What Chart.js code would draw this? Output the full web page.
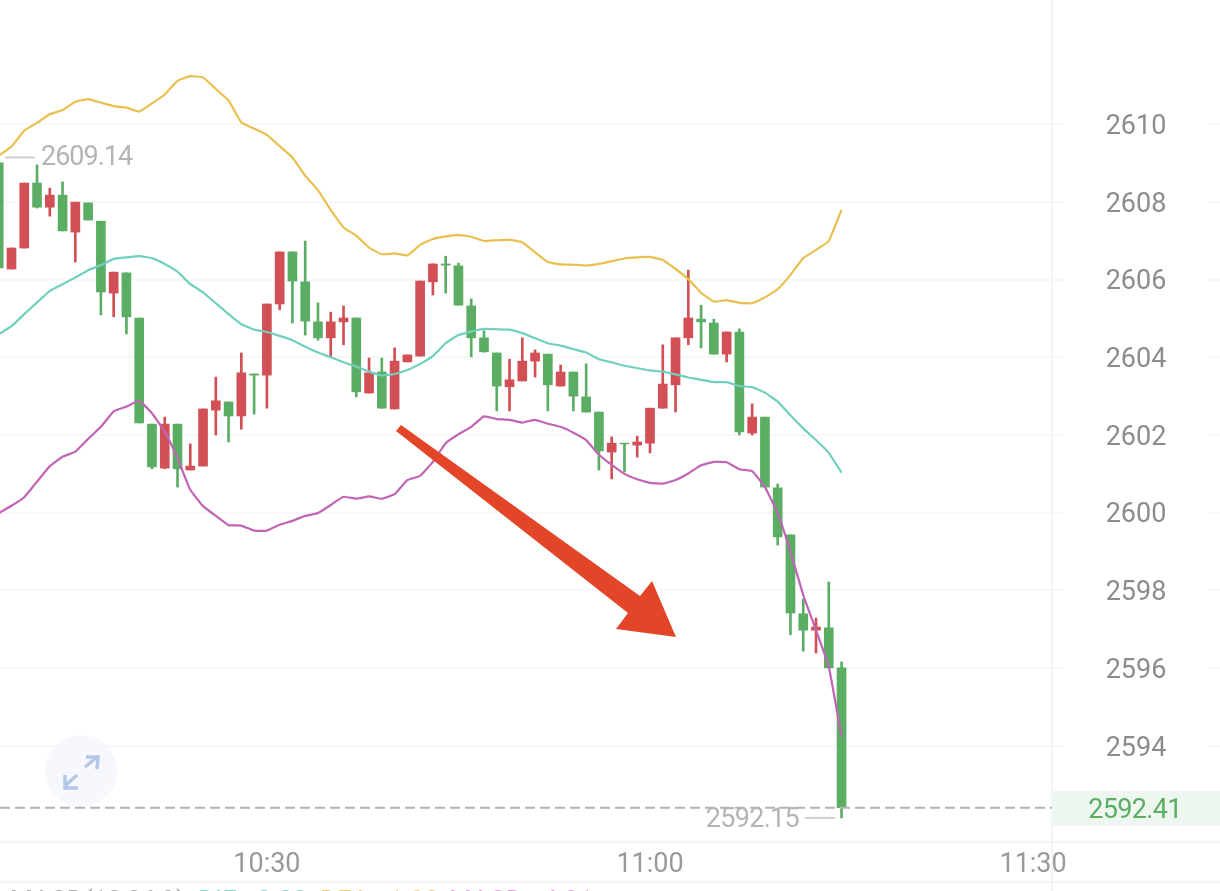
<!DOCTYPE html>
<html>
<head>
<meta charset="utf-8">
<title>Candles</title>
<style>
  html, body { margin: 0; padding: 0; background: #fff; overflow: hidden; }
  canvas { display: block; }
</style>
<script src="https://cdn.jsdelivr.net/npm/chart.js@4/dist/chart.umd.js"></script>
</head>
<body>
<canvas id="chart" width="1220" height="891"></canvas>
<script>
// 1-minute candles with Bollinger bands, 10:09 to 11:15. x is minutes after 10:00.

const firstMinute = 9;

const opens = [
  2609.00, 2606.27, 2606.81, 2608.48, 2607.86, 2608.17, 2607.22, 2607.97, 2607.50, 2605.65,
  2606.17, 2605.01, 2602.28, 2601.15, 2602.28, 2601.10, 2601.20, 2602.64, 2602.85, 2602.49,
  2603.57, 2603.54, 2605.37, 2606.71, 2605.94, 2604.91, 2604.50, 2604.91, 2605.01, 2603.08,
  2603.62, 2602.67, 2603.88, 2604.03, 2605.94, 2606.40, 2606.35, 2605.32, 2604.50, 2604.11,
  2603.24, 2603.39, 2603.90, 2604.08, 2603.26, 2603.62, 2602.98, 2602.59, 2601.56, 2601.79,
  2601.74, 2601.79, 2602.69, 2603.29, 2604.50, 2604.98, 2604.88, 2604.08, 2604.65, 2602.05,
  2602.46, 2600.64, 2599.43, 2597.40, 2596.98, 2597.04, 2596.01
];
const highs = [
  2609.00, 2606.81, 2608.48, 2608.95, 2608.35, 2608.51, 2607.99, 2607.97, 2607.50, 2606.19,
  2606.17, 2605.01, 2602.28, 2602.46, 2602.28, 2601.77, 2602.67, 2603.49, 2602.85, 2604.11,
  2603.57, 2605.37, 2606.71, 2606.71, 2606.99, 2605.40, 2605.16, 2605.32, 2605.01, 2603.98,
  2603.98, 2604.24, 2604.06, 2605.96, 2606.40, 2606.60, 2606.42, 2605.50, 2604.68, 2604.11,
  2603.95, 2604.50, 2604.19, 2604.08, 2603.80, 2603.62, 2603.83, 2602.59, 2601.95, 2601.79,
  2601.97, 2602.69, 2604.32, 2604.50, 2606.24, 2605.34, 2604.98, 2604.65, 2604.73, 2602.80,
  2602.46, 2600.74, 2599.43, 2597.78, 2597.29, 2598.22, 2596.16
];
const lows = [
  2606.30, 2606.27, 2606.81, 2607.84, 2607.63, 2607.25, 2606.45, 2607.53, 2605.09, 2605.04,
  2604.60, 2602.31, 2601.13, 2601.13, 2600.66, 2601.10, 2601.20, 2602.00, 2601.82, 2602.15,
  2602.54, 2602.69, 2605.22, 2604.88, 2604.57, 2604.44, 2604.01, 2604.32, 2602.98, 2603.08,
  2602.69, 2602.67, 2603.88, 2604.03, 2605.60, 2605.65, 2605.34, 2604.01, 2604.13, 2602.62,
  2602.62, 2603.39, 2603.49, 2602.62, 2603.26, 2602.62, 2602.59, 2601.10, 2600.87, 2601.05,
  2601.43, 2601.54, 2602.69, 2602.59, 2604.32, 2604.24, 2604.08, 2603.88, 2602.00, 2602.00,
  2600.66, 2599.17, 2596.86, 2596.44, 2596.39, 2596.01, 2592.15
];
const closes = [
  2606.30, 2606.81, 2608.48, 2607.86, 2608.17, 2607.25, 2607.99, 2607.53, 2605.68, 2606.19,
  2605.04, 2602.31, 2601.18, 2602.28, 2601.13, 2601.20, 2602.67, 2602.88, 2602.49, 2603.60,
  2603.54, 2605.37, 2606.71, 2605.96, 2604.93, 2604.50, 2604.91, 2605.01, 2603.11, 2603.60,
  2602.69, 2603.90, 2604.06, 2605.96, 2606.40, 2606.37, 2605.34, 2604.50, 2604.14, 2603.26,
  2603.42, 2603.90, 2604.11, 2603.29, 2603.62, 2603.00, 2602.59, 2601.59, 2601.79, 2601.77,
  2601.82, 2602.69, 2603.31, 2604.50, 2605.01, 2604.91, 2604.08, 2604.65, 2602.08, 2602.46,
  2600.66, 2599.38, 2597.42, 2596.98, 2597.06, 2596.01, 2592.41
];

const upperBand = [
  2609.18, 2609.42, 2609.83, 2610.03, 2610.25, 2610.36, 2610.57, 2610.64, 2610.55, 2610.46,
  2610.42, 2610.32, 2610.53, 2610.76, 2611.11, 2611.23, 2611.20, 2610.90, 2610.60, 2610.04,
  2609.88, 2609.72, 2609.43, 2609.14, 2608.67, 2608.30, 2607.79, 2607.34, 2607.13, 2606.82,
  2606.65, 2606.67, 2606.62, 2606.89, 2607.04, 2607.11, 2607.14, 2607.10, 2606.99, 2607.01,
  2607.02, 2606.96, 2606.70, 2606.45, 2606.39, 2606.38, 2606.36, 2606.40, 2606.47, 2606.54,
  2606.57, 2606.58, 2606.50, 2606.27, 2606.01, 2605.66, 2605.43, 2605.47, 2605.40, 2605.39,
  2605.54, 2605.75, 2606.12, 2606.55, 2606.76, 2606.99, 2607.79
];
const midBand = [
  2604.59, 2604.80, 2605.11, 2605.41, 2605.71, 2605.88, 2606.05, 2606.24, 2606.37, 2606.53,
  2606.57, 2606.60, 2606.55, 2606.40, 2606.20, 2605.88, 2605.67, 2605.39, 2605.11, 2604.85,
  2604.71, 2604.65, 2604.55, 2604.44, 2604.27, 2604.12, 2604.00, 2603.87, 2603.76, 2603.63,
  2603.53, 2603.57, 2603.67, 2603.83, 2604.03, 2604.36, 2604.57, 2604.66, 2604.73, 2604.72,
  2604.71, 2604.62, 2604.49, 2604.36, 2604.30, 2604.21, 2604.12, 2603.95, 2603.87, 2603.78,
  2603.72, 2603.66, 2603.63, 2603.56, 2603.48, 2603.42, 2603.36, 2603.36, 2603.26, 2603.23,
  2603.09, 2602.86, 2602.51, 2602.17, 2601.87, 2601.54, 2601.03
];
const lowerBand = [
  2599.99, 2600.18, 2600.40, 2600.80, 2601.20, 2601.44, 2601.57, 2601.90, 2602.21, 2602.61,
  2602.73, 2602.88, 2602.56, 2602.09, 2601.40, 2600.59, 2600.17, 2599.92, 2599.68, 2599.67,
  2599.54, 2599.54, 2599.69, 2599.79, 2599.92, 2599.99, 2600.20, 2600.41, 2600.36, 2600.42,
  2600.36, 2600.48, 2600.84, 2600.95, 2601.31, 2601.79, 2602.02, 2602.21, 2602.48, 2602.41,
  2602.39, 2602.32, 2602.39, 2602.29, 2602.21, 2602.06, 2601.87, 2601.49, 2601.23, 2601.00,
  2600.86, 2600.77, 2600.75, 2600.84, 2601.01, 2601.22, 2601.31, 2601.30, 2601.12, 2601.07,
  2600.66, 2599.99, 2599.00, 2597.88, 2596.98, 2596.04, 2594.24
];

const priceTicks = [2594, 2596, 2598, 2600, 2602, 2604, 2606, 2608, 2610];
const timeTicks = [30, 60, 90];
const timeLabels = ['10:30', '11:00', '11:30'];

const lastPrice = 2592.41;
const highPrice = 2609.14;
const lowPrice = 2592.15;

const GREEN = '#5aad63';
const RED = '#d14f55';
const GRID = '#f6f8f9';
const FONT = 'Roboto, sans-serif';

const candleMinutes = opens.map((_, i) => firstMinute + i);
const candleColor = i => closes[i] >= opens[i] ? RED : GREEN;
const bandPoints = band => band.map((v, i) => ({ x: candleMinutes[i], y: v }));

function lineDataset(band, color) {
  return {
    type: 'line',
    data: bandPoints(band),
    borderColor: color,
    borderWidth: 2.2,
    pointRadius: 0,
    tension: 0.1,
    order: 1,
  };
}

// Screenshot furniture around the plot: axis dividers, labels, the hand-drawn arrow.
const overlay = {
  id: 'overlay',
  beforeDatasetsDraw(chart) {
    const { ctx, scales: { y } } = chart;
    ctx.save();

    // expand button
    ctx.fillStyle = '#f6f8fd';
    ctx.beginPath();
    ctx.ellipse(81, 771, 36, 36, 0, 0, Math.PI * 2);
    ctx.fill();
    ctx.strokeStyle = '#b5c7e9';
    ctx.lineWidth = 3.5;
    ctx.beginPath();
    ctx.moveTo(85, 767); ctx.lineTo(97, 757);
    ctx.moveTo(86, 757); ctx.lineTo(98, 757); ctx.lineTo(97, 769);
    ctx.moveTo(66, 785); ctx.lineTo(77, 775);
    ctx.moveTo(65, 775); ctx.lineTo(65, 788); ctx.lineTo(78, 788);
    ctx.stroke();

    // grid stubs on the far right of the price axis
    ctx.strokeStyle = GRID;
    ctx.lineWidth = 2;
    priceTicks.forEach(v => {
      const py = Math.round(y.getPixelForValue(v));
      ctx.beginPath();
      ctx.moveTo(1208, py);
      ctx.lineTo(1220, py);
      ctx.stroke();
    });

    // price labels, drawn here because the digits sit 3px under the axis' own middle baseline
    ctx.fillStyle = '#8c8c8c';
    ctx.font = '27px ' + FONT;
    ctx.textAlign = 'center';
    ctx.textBaseline = 'middle';
    priceTicks.forEach(v => ctx.fillText(String(v), 1136, y.getPixelForValue(v) + 3));

    // panel lines
    ctx.strokeStyle = '#f3f4f5';
    ctx.lineWidth = 2;
    ctx.beginPath();
    ctx.moveTo(1052, 0); ctx.lineTo(1052, 891);
    ctx.moveTo(0, 842); ctx.lineTo(1220, 842);
    ctx.moveTo(0, 882); ctx.lineTo(1220, 882);
    ctx.stroke();

    // last price tag
    const lastY = y.getPixelForValue(lastPrice);
    ctx.fillStyle = '#eef7ef';
    ctx.fillRect(1053, lastY - 17, 167, 35);
    ctx.fillStyle = GREEN;
    ctx.letterSpacing = '-0.7px';
    ctx.fillText(lastPrice.toFixed(2), 1135, lastY + 3);
    ctx.letterSpacing = '0px';
    ctx.restore();
  },
  afterDatasetsDraw(chart) {
    const { ctx, scales: { y } } = chart;
    ctx.save();

    // last price dashed line
    const lastY = y.getPixelForValue(lastPrice);
    ctx.strokeStyle = '#b3b3b3';
    ctx.lineWidth = 2;
    ctx.setLineDash([10, 5]);
    ctx.beginPath();
    ctx.moveTo(0, lastY);
    ctx.lineTo(1052, lastY);
    ctx.stroke();
    ctx.setLineDash([]);

    // high / low markers
    ctx.font = '27px ' + FONT;
    ctx.fillStyle = '#b4b4b4';
    ctx.textBaseline = 'middle';
    ctx.strokeStyle = '#cfcfcf';
    ctx.letterSpacing = '-1px';
    const highY = y.getPixelForValue(highPrice);
    ctx.beginPath();
    ctx.moveTo(5, highY);
    ctx.lineTo(35, highY);
    ctx.stroke();
    ctx.textAlign = 'left';
    ctx.fillText(highPrice.toFixed(2), 41, highY + 1);
    ctx.letterSpacing = '-0.7px';
    const lowY = y.getPixelForValue(lowPrice);
    ctx.beginPath();
    ctx.moveTo(805, lowY);
    ctx.lineTo(835, lowY);
    ctx.stroke();
    ctx.textAlign = 'right';
    ctx.fillText(lowPrice.toFixed(2), 799, lowY + 2);
    ctx.letterSpacing = '0px';

    // red arrow drawn over the screenshot
    ctx.fillStyle = '#e24527';
    ctx.beginPath();
    ctx.moveTo(396, 431);
    ctx.lineTo(401, 425);
    ctx.lineTo(640, 596);
    ctx.lineTo(652, 581);
    ctx.lineTo(676, 637);
    ctx.lineTo(616, 629);
    ctx.lineTo(628, 613);
    ctx.closePath();
    ctx.fill();

    // indicator readout, cut off by the bottom edge of the screenshot
    ctx.font = '26px ' + FONT;
    ctx.textAlign = 'left';
    ctx.textBaseline = 'top';
    const readout = [
      ['MACD(12,26,9)', '#a6a6a6', 10],
      ['DIF: -0.00', '#7fd4c4', 198],
      ['DEA: -1.93', '#efcb6b', 320],
      ['MACD: -4.91', '#e79ad9', 449],
    ];
    readout.forEach(([text, color, left]) => {
      ctx.fillStyle = color;
      ctx.fillText(text, left, 889);
    });
    ctx.restore();
  },
};

new Chart(document.getElementById('chart'), {
  data: {
    datasets: [
      lineDataset(upperBand, '#e9bf4e'),
      lineDataset(midBand, '#71cfbd'),
      lineDataset(lowerBand, '#c064b4'),
      {
        type: 'bar',
        data: candleMinutes.map((m, i) => ({ x: m, y: [opens[i], closes[i]] })),
        backgroundColor: opens.map((_, i) => candleColor(i)),
        borderWidth: 0,
        barThickness: 9,
        grouped: false,
        order: 2,
      },
      {
        type: 'bar',
        data: candleMinutes.map((m, i) => ({ x: m, y: [lows[i], highs[i]] })),
        backgroundColor: opens.map((_, i) => candleColor(i)),
        borderWidth: 0,
        barThickness: 2,
        grouped: false,
        order: 3,
      },
    ],
  },
  plugins: [overlay],
  options: {
    responsive: false,
    animation: false,
    events: [],
    layout: { padding: 0 },
    plugins: { legend: { display: false }, tooltip: { enabled: false } },
    scales: {
      x: {
        type: 'linear',
        offset: false,
        min: 9.1,
        max: 91.48,
        afterBuildTicks: s => { s.ticks = timeTicks.map(v => ({ value: v })); },
        afterFit: s => {
          s.height = 49;
          s.paddingLeft = s.paddingRight = s.paddingTop = s.paddingBottom = 0;
        },
        grid: { display: false },
        border: { display: false },
        ticks: {
          autoSkip: false,
          maxRotation: 0,
          padding: -1,
          color: '#999999',
          font: { family: FONT, size: 27 },
          callback: v => timeLabels[timeTicks.indexOf(v)],
        },
      },
      y: {
        position: 'right',
        min: 2591.53,
        max: 2613.19,
        afterBuildTicks: s => { s.ticks = priceTicks.map(v => ({ value: v })); },
        afterFit: s => {
          s.width = 168;
          s.paddingLeft = s.paddingRight = s.paddingTop = s.paddingBottom = 0;
        },
        border: { display: false },
        grid: { color: GRID, lineWidth: 2, tickLength: 12 },
        ticks: { display: false },
      },
    },
  },
});
</script>
</body>
</html>
